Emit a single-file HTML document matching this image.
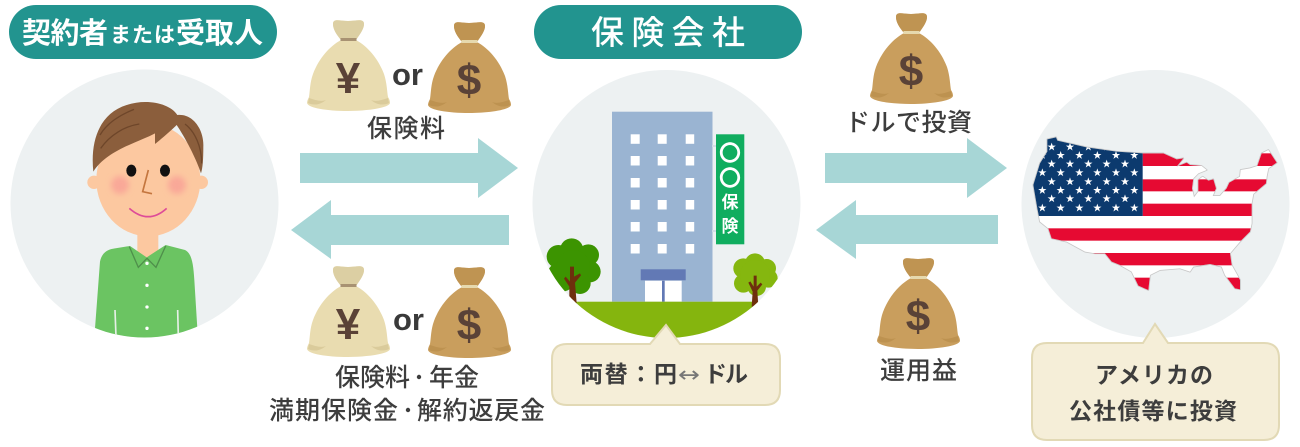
<!DOCTYPE html>
<html lang="ja"><head><meta charset="utf-8"><style>
html,body{margin:0;padding:0;background:#fff;width:1300px;height:447px;overflow:hidden}
svg{display:block;font-family:"Liberation Sans","Noto Sans CJK JP",sans-serif}
.l{font-family:"Noto Sans CJK JP",sans-serif;font-weight:500;fill:#3d3d3d;font-size:25px}
.b{font-family:"Noto Sans CJK JP",sans-serif;font-weight:700;fill:#3d3d3d;font-size:23px}
.h{font-family:"Noto Sans CJK JP",sans-serif;font-weight:700;fill:#fff}
.or{font-family:"Liberation Sans",sans-serif;font-weight:700;font-size:31px;fill:#3a3a3a}
.sym{font-family:"Liberation Sans",sans-serif;font-weight:700;font-size:44px;fill:#5a4237}
</style></head><body>
<svg width="1300" height="447" viewBox="0 0 1300 447" xmlns="http://www.w3.org/2000/svg">
<defs>
<filter id="soft" x="-50%" y="-50%" width="200%" height="200%"><feGaussianBlur stdDeviation="9"/></filter>
<clipPath id="c1"><circle cx="144.5" cy="203.5" r="134"/></clipPath>
<clipPath id="c2"><circle cx="666.5" cy="204" r="134"/></clipPath>
<path id="bag" d="M34 22C29 16 26 11 26 6C26 0 33 3 41 3C49 3 57 0 57 6C57 11 53 16 49 22C60 28 71 40 77 56C80 65 80 74 81 79C83 82 83 84 83 85C82 90 60 93 41 93C20 93 1 90 0 85C0 83 1 81 2 79C3 72 3 64 6 56C12 40 23 28 34 22Z"/>
<g id="yen"><use href="#bag" fill="#e9dcb0"/><path d="M26 6C26 0 33 3 41 3C49 3 57 0 57 6C57 11 53 16 49 22H34C29 16 26 11 26 6Z" fill="#dccfa3"/><rect x="33.500" y="20" width="16" height="3" fill="#a89272"/><path d="M2 80C8 82 14 84 19 82C12 88 5 87 1 85ZM81 80C75 82 69 84 64 82C71 88 78 87 82 85Z" fill="#dacb9b"/><text class="sym" x="41" y="75" text-anchor="middle">¥</text></g>
<g id="usd"><use href="#bag" fill="#c99e5d"/><path d="M26 6C26 0 33 3 41 3C49 3 57 0 57 6C57 11 53 16 49 22H34C29 16 26 11 26 6Z" fill="#bf9452"/><rect x="33.500" y="20" width="16" height="3" fill="#e6d9ae"/><path d="M2 80C8 82 14 84 19 82C12 88 5 87 1 85ZM81 80C75 82 69 84 64 82C71 88 78 87 82 85Z" fill="#bd9250"/><text class="sym" x="41" y="75" text-anchor="middle">$</text></g>
<path id="usp" d="M82 58L108 52L112 62L200 82L290 95L368 100L430 100L470 118L490 115L470 140L500 128L510 135L545 138L560 150L535 160L520 175L516 205L522 232L535 215L535 180L548 170L565 182L580 178L588 205L578 228L600 228L620 205L628 188L660 170L662 150L690 145L712 138L725 100L745 90L770 128L745 145L740 170L738 190L712 212L700 222L695 250L695 310L690 335L660 365L630 400L635 435L660 480L660 508L645 505L615 465L605 440L570 432L520 440L510 455L480 445L420 450L390 465L385 510L355 497L335 455L300 435L275 425L255 400L225 400L195 395L140 365L95 355L85 325L60 305L52 265L40 195L60 130L82 95Z"/>
<clipPath id="usa"><use href="#usp"/></clipPath>
<polygon id="st" points="0,-13 3.100,-4 12.400,-4 4.900,1.500 7.700,10.500 0,5 -7.700,10.500 -4.900,1.500 -12.400,-4 -3.100,-4" fill="#fff"/>
<g id="r6"><use href="#st" x="67"/><use href="#st" x="122"/><use href="#st" x="178"/><use href="#st" x="232"/><use href="#st" x="288"/><use href="#st" x="343"/></g>
<g id="r5"><use href="#st" x="95"/><use href="#st" x="150"/><use href="#st" x="205"/><use href="#st" x="260"/><use href="#st" x="315"/></g>
</defs>
<rect width="1300" height="447" fill="#fff"/>

<!-- pills -->
<rect x="9" y="5" width="268" height="54" rx="27" fill="#22948f"/>
<rect x="534" y="5" width="268" height="54" rx="27" fill="#22948f"/>
<text class="h" x="22" y="43" font-size="29" textLength="86">契約者</text>
<text class="h" x="110" y="42" font-size="21" textLength="65">または</text>
<text class="h" x="176" y="43" font-size="29" textLength="87">受取人</text>
<text class="h" x="591" y="44" font-size="33" textLength="154" style="font-weight:500">保険会社</text>

<!-- circles -->
<circle cx="144.500" cy="203.500" r="134" fill="#edf1f2"/>
<circle cx="666.500" cy="204" r="134" fill="#edf1f2"/>
<circle cx="1155.500" cy="204" r="134" fill="#edf1f2"/>

<!-- arrows -->
<g fill="#a7d6d6">
<polygon points="300,153 478,153 478,138 518,168 478,198 478,183 300,183"/>
<polygon points="509,215 331,215 331,200 291,230 331,259 331,245 509,245"/>
<polygon points="825,153 967,153 967,138 1007,168 967,198 967,183 825,183"/>
<polygon points="998,215 856,215 856,200 816,230 856,259 856,244 998,244"/>
</g>

<!-- person -->
<g clip-path="url(#c1)"><g transform="scale(.33333)">
<path d="M412 690H475V775H412Z" fill="#fcc8a0"/>
<path d="M300 785C305 760 320 748 345 745L390 738L440 772L497 735L555 750C575 760 580 790 583 840L592 985L600 1030H280L285 985Z" fill="#6bc462"/>
<path d="M412 735H475L441 772Z" fill="#fcc8a0"/>
<path d="M388 740L415 802L441 775L468 802L497 738" fill="none" stroke="#4f8f4b" stroke-width="4"/>
<path d="M345 930L348 1010M533 930L535 1010" stroke="#e6efe6" stroke-width="5" fill="none"/>
<g fill="#fff"><circle cx="441" cy="790" r="5"/><circle cx="441" cy="856" r="5"/><circle cx="441" cy="921" r="5"/><circle cx="441" cy="985" r="5"/></g>
<circle cx="282" cy="547" r="20" fill="#fcc8a0"/><circle cx="604" cy="547" r="20" fill="#fcc8a0"/>
<ellipse cx="445" cy="540" rx="156" ry="169" fill="#fcc8a0"/>
<circle cx="360" cy="555" r="27" fill="#f9a898" filter="url(#soft)"/><circle cx="531" cy="555" r="27" fill="#f9a898" filter="url(#soft)"/>
<path d="M280 515C270 420 300 340 380 315C440 295 510 310 532 345C580 340 612 390 610 440C610 480 608 505 603 520C590 480 560 420 530 375C510 395 480 420 465 432L465 400C420 425 320 450 280 515Z" fill="#8b5e3c"/>
<path d="M300 405C320 370 360 345 402 328M302 445C330 405 375 378 418 372M555 372C585 395 605 440 605 490" fill="none" stroke="#6e462a" stroke-width="4"/>
<ellipse cx="394" cy="512" rx="15" ry="18" fill="#111"/><ellipse cx="495" cy="512" rx="15" ry="18" fill="#111"/>
<path d="M445 510L428 575L456 581" fill="none" stroke="#c4763f" stroke-width="5"/>
<path d="M388 625Q445 675 500 625" fill="none" stroke="#de4c98" stroke-width="5"/>
</g></g>

<!-- bags -->
<use href="#yen" x="307" y="18"/><use href="#usd" x="428" y="20"/>
<use href="#yen" x="307" y="264"/><use href="#usd" x="428" y="265"/>
<use href="#usd" x="870" y="11"/><use href="#usd" x="877" y="256"/>
<text class="or" x="392" y="85">or</text>
<text class="or" x="393" y="330">or</text>

<!-- labels -->
<text class="l" x="367" y="137" textLength="78">保険料</text>
<text class="l" x="335" y="386" textLength="75">保険料</text>
<circle cx="419" cy="377" r="2.200" fill="#3d3d3d"/>
<text class="l" x="429" y="386" textLength="50">年金</text>
<text class="l" x="269" y="419" textLength="129">満期保険金</text>
<circle cx="408" cy="410" r="2.200" fill="#3d3d3d"/>
<text class="l" x="417" y="419" textLength="128">解約返戻金</text>
<text class="l" x="845" y="131" textLength="127">ドルで投資</text>
<text class="l" x="880" y="379" textLength="77">運用益</text>

<!-- building -->
<g clip-path="url(#c2)">
<rect x="612" y="111.700" width="100.500" height="190" fill="#9ab4d2"/>
<g fill="#fff">
<rect x="630.700" y="134.300" width="9" height="9.500"/><rect x="657.700" y="134.300" width="9" height="9.500"/><rect x="685.700" y="134.300" width="8.500" height="9.500"/>
<rect x="630.700" y="156" width="9" height="9.500"/><rect x="657.700" y="156" width="9" height="9.500"/><rect x="685.700" y="156" width="8.500" height="9.500"/>
<rect x="630.700" y="178" width="9" height="9.500"/><rect x="657.700" y="178" width="9" height="9.500"/><rect x="685.700" y="178" width="8.500" height="9.500"/>
<rect x="630.700" y="200" width="9" height="9.500"/><rect x="657.700" y="200" width="9" height="9.500"/><rect x="685.700" y="200" width="8.500" height="9.500"/>
<rect x="630.700" y="222" width="9" height="9.500"/><rect x="657.700" y="222" width="9" height="9.500"/><rect x="685.700" y="222" width="8.500" height="9.500"/>
<rect x="630.700" y="244" width="9" height="9.500"/><rect x="657.700" y="244" width="9" height="9.500"/><rect x="685.700" y="244" width="8.500" height="9.500"/>
</g>
<rect x="640.700" y="269.300" width="45" height="11" fill="#6279b5"/>
<rect x="645" y="280.700" width="36.700" height="21" fill="#fff"/>
<rect x="662" y="280.700" width="2.700" height="21" fill="#6279b5"/>
<rect x="712" y="145" width="5" height="2" fill="#d5dde6"/><rect x="712" y="230" width="5" height="2" fill="#d5dde6"/>
<rect x="716" y="134.300" width="28.300" height="110" fill="#10ad5f"/>
<text x="730" y="161" text-anchor="middle" font-size="22" font-weight="700" fill="#fff" style="font-family:'Noto Sans CJK JP',sans-serif">〇</text>
<text x="730" y="186" text-anchor="middle" font-size="22" font-weight="700" fill="#fff" style="font-family:'Noto Sans CJK JP',sans-serif">〇</text>
<text x="730" y="208" text-anchor="middle" font-size="17" font-weight="700" fill="#fff" style="font-family:'Noto Sans CJK JP',sans-serif">保</text>
<text x="730" y="232" text-anchor="middle" font-size="17" font-weight="700" fill="#fff" style="font-family:'Noto Sans CJK JP',sans-serif">険</text>
<rect x="530" y="301.700" width="272" height="40" fill="#85b50e"/>
<g transform="translate(530,90) scale(.33333)">
<g fill="#3c9401"><circle cx="125" cy="480" r="35"/><circle cx="85" cy="500" r="35"/><circle cx="175" cy="495" r="32"/><circle cx="180" cy="545" r="32"/><circle cx="150" cy="580" r="32"/><circle cx="95" cy="560" r="45"/><circle cx="130" cy="530" r="50"/></g>
<path d="M120 530H132V560L150 550L153 556L135 578L140 640H118L118 590L102 566L107 560L120 575Z" fill="#6e2f0d"/>
<g fill="#85b70f"><circle cx="675" cy="520" r="30"/><circle cx="640" cy="535" r="30"/><circle cx="710" cy="535" r="28"/><circle cx="715" cy="565" r="28"/><circle cx="640" cy="580" r="28"/><circle cx="680" cy="590" r="28"/><circle cx="675" cy="555" r="45"/></g>
<path d="M671 557H680V590L692 578L697 583L682 602L685 650H665L668 605L655 578L661 574L671 590Z" fill="#6e2f0d"/>
</g>
</g>

<!-- USA flag map -->
<g transform="translate(1020,120) scale(.33333)">
<use href="#usp" fill="#fff" stroke="#c8c8c8" stroke-width="5" stroke-linejoin="round"/>
<g clip-path="url(#usa)">
<rect x="30" y="40" width="760" height="480" fill="#fff"/>
<g fill="#e60a32">
<rect x="368" y="100" width="420" height="38"/><rect x="368" y="178" width="420" height="36"/><rect x="368" y="251" width="420" height="37"/><rect x="30" y="325" width="760" height="37"/><rect x="30" y="399" width="760" height="37"/><rect x="30" y="473" width="760" height="40"/>
</g>
<rect x="30" y="40" width="338" height="248" fill="#0c3a6e"/>
<use href="#r5" y="81"/><use href="#r6" y="106"/><use href="#r5" y="132"/><use href="#r6" y="158"/><use href="#r5" y="185"/><use href="#r6" y="211"/><use href="#r5" y="236"/><use href="#r6" y="264"/>
</g>
</g>

<!-- callouts -->
<path d="M567 344H650L666 325L680 344H765Q780 344 780 359V390Q780 405 765 405H567Q552 405 552 390V359Q552 344 567 344Z" fill="#f5eed8" stroke="#e2d9b5" stroke-width="2"/>
<text class="b" x="580" y="382" textLength="97">両替：円</text>
<text x="678" y="382" font-size="22" fill="#777" textLength="22" lengthAdjust="spacingAndGlyphs" style="font-family:'DejaVu Sans',sans-serif">↔</text>
<text class="b" x="704" y="382" textLength="44">ドル</text>
<path d="M1047 343H1143L1155 324L1168 343H1264Q1279 343 1279 358V425Q1279 440 1264 440H1047Q1032 440 1032 425V358Q1032 343 1047 343Z" fill="#f5eed8" stroke="#e2d9b5" stroke-width="2"/>
<text class="b" x="1095" y="383" textLength="118">アメリカの</text>
<text class="b" x="1069" y="419" textLength="168">公社債等に投資</text>
</svg>
</body></html>
